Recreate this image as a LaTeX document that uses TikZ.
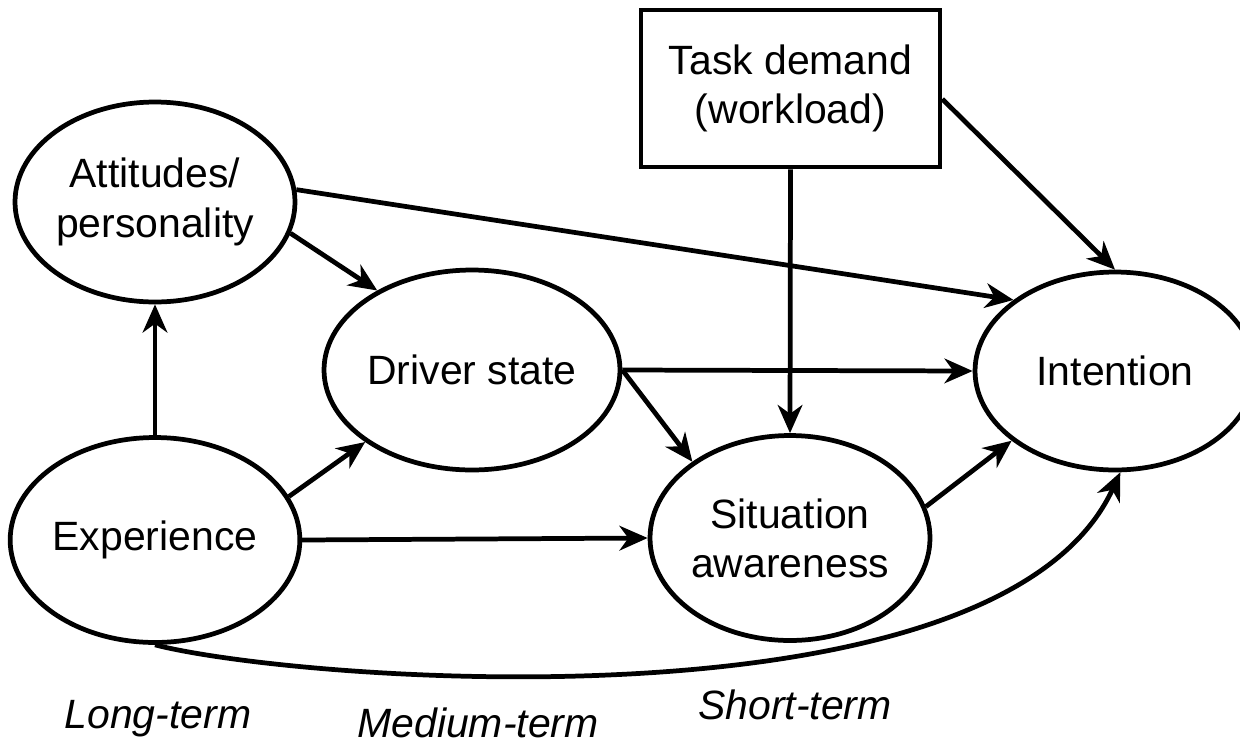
\documentclass[tikz,border=0pt]{standalone}
\usepackage{fontspec}
\setmainfont{Liberation Sans}
\usetikzlibrary{arrows.meta,shapes.geometric}
\begin{document}
\begin{tikzpicture}[x=0.02cm,y=-0.02cm,
  every node/.style={font=\fontsize{23.3}{28}\selectfont, align=center, inner sep=0pt},
  oval/.style={ellipse, draw, line width=2.7pt, minimum width=5.6cm, minimum height=4cm},
  taskbox/.style={rectangle, draw, line width=2.7pt, minimum width=5.98cm, minimum height=3.14cm},
  conn/.style={line width=2.7pt, -{Stealth[length=16pt,width=14pt,inset=5pt]}},
  term/.style={font=\fontsize{23.3}{28}\selectfont\itshape, anchor=base}]
\useasboundingbox (0,0) rectangle (1240,744);

% model components
\node[oval] (att) at (155,202) {Attitudes/\\personality};
\node[oval, minimum height=4.1cm] (exp) at (155,540) {Experience};
\node[oval] (drv) at (472,370) {Driver state};
\node[oval, minimum height=4.1cm] (sit) at (790,538) {Situation\\awareness};
\node[oval, minimum height=3.96cm] (int) at (1115,371) {Intention};
\node[taskbox] (task) at (790.5,88.5) {Task demand\\(workload)};

% influences
\draw[conn] (exp.north) -- (att.south);
\draw[conn] (att.-13) -- (drv.140);
\draw[conn] (att.5) -- (int.145.4);
\draw[conn] (exp.18) -- (drv.-146);
\draw[conn] (exp.east) -- (sit.west);
\draw[conn] (drv.east) -- (int.west);
\draw[conn] (drv.east) -- (sit.142);
\draw[conn] (task.south) -- (sit.north);
\draw[conn] (task.-4) -- (int.north);
\draw[conn] (sit.13) -- (int.214);
\draw[conn] (exp.south) .. controls (300,682) and (1000,735) .. (int.-87);

% time scales
\node[term] (lt) at (158,728) {Long-term};
\node[term] (mt) at (478,737) {Medium-term};
\node[term] (st) at (795,719) {Short-term};
\end{tikzpicture}
\end{document}
